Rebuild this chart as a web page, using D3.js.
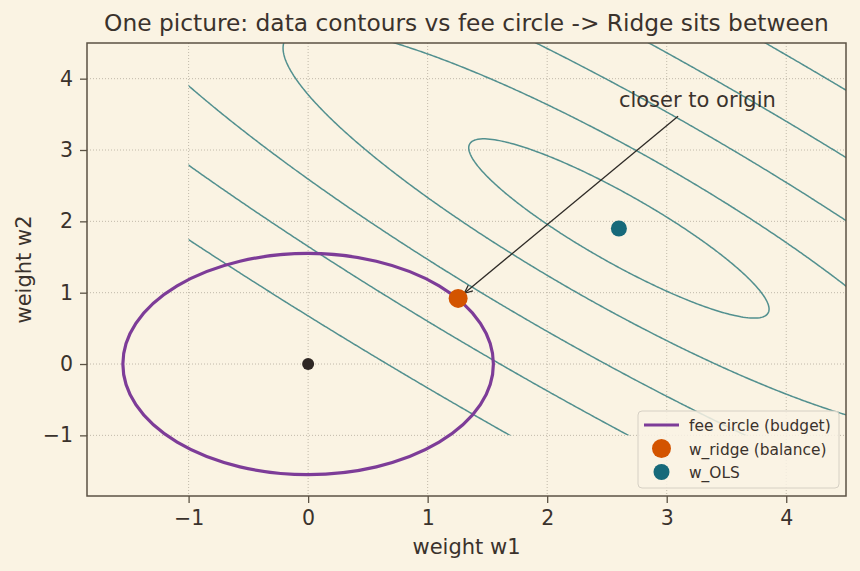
<!DOCTYPE html>
<html>
<head>
<meta charset="utf-8">
<script src="https://cdn.jsdelivr.net/npm/d3@7"></script>
<style>
  body { margin: 0; background: #faf3e3; }
  text { font-family: "DejaVu Sans", sans-serif; fill: #3a322c; }
</style>
</head>
<body>
<div id="chart"></div>
<script>
// chart values
let xTicks = [-1, 0, 1, 2, 3, 4];
let yTicks = [-1, 0, 1, 2, 3, 4];
let xLimits = [-1.85, 4.5];
let yLimits = [-1.85, 4.5];

// loss surface: (w - wOLS)^T A (w - wOLS), evaluated on a grid
let wOLS = [2.6, 1.9];
let lossMatrix = [[1, 0.9], [0.9, 1]];
let contourLevels = [0.3, 1.5, 4, 8, 14];
let gridXRange = [-1, 4.5];
let gridYRange = [-1, 4.5];

let feeRadius = 1.55;
let wRidge = [1.255, 0.92];
let origin = [0, 0];

let legendLabels = ["fee circle (budget)", "w_ridge (balance)", "w_OLS"];
let titleText = "One picture: data contours vs fee circle -> Ridge sits between";

let svgWidth = 860;
let svgHeight = 571;

let margin = { top: 43, right: 14, bottom: 75, left: 87 };
let width = svgWidth - margin.left - margin.right;
let height = svgHeight - margin.top - margin.bottom;

let svg = d3.select("#chart")
    .append("svg")
    .attr("width", svgWidth)
    .attr("height", svgHeight);

svg.append("rect")
    .attr("width", svgWidth)
    .attr("height", svgHeight)
    .attr("fill", "#faf3e3");

let chartGroup = svg.append("g")
    .attr("transform", `translate(${margin.left}, ${margin.top})`);

let xScale = d3.scaleLinear().domain(xLimits).range([0, width]);
let yScale = d3.scaleLinear().domain(yLimits).range([height, 0]);

// grid
chartGroup.append("g")
    .selectAll("line")
    .data(xTicks)
    .enter()
    .append("line")
    .attr("x1", d => xScale(d))
    .attr("x2", d => xScale(d))
    .attr("y1", 0)
    .attr("y2", height)
    .attr("stroke", "#b3ab9c")
    .attr("stroke-width", 0.8)
    .attr("stroke-dasharray", "1,2");

chartGroup.append("g")
    .selectAll("line")
    .data(yTicks)
    .enter()
    .append("line")
    .attr("x1", 0)
    .attr("x2", width)
    .attr("y1", d => yScale(d))
    .attr("y2", d => yScale(d))
    .attr("stroke", "#b3ab9c")
    .attr("stroke-width", 0.8)
    .attr("stroke-dasharray", "1,2");

// contours: grid a bit bigger than the drawn region, then clipped
let step = 0.02;
let gx0 = gridXRange[0] - 0.5, gx1 = gridXRange[1] + 0.5;
let gy0 = gridYRange[0] - 0.5, gy1 = gridYRange[1] + 0.5;
let nx = Math.round((gx1 - gx0) / step) + 1;
let ny = Math.round((gy1 - gy0) / step) + 1;
let values = new Array(nx * ny);
for (let j = 0; j < ny; j++) {
    for (let i = 0; i < nx; i++) {
        let dx = gx0 + i * step - wOLS[0];
        let dy = gy0 + j * step - wOLS[1];
        values[j * nx + i] = lossMatrix[0][0] * dx * dx
            + 2 * lossMatrix[0][1] * dx * dy
            + lossMatrix[1][1] * dy * dy;
    }
}

let contours = d3.contours()
    .size([nx, ny])
    .thresholds(contourLevels)(values);

let gridProjection = d3.geoTransform({
    point: function(gx, gy) {
        this.stream.point(xScale(gx0 + (gx - 0.5) * step), yScale(gy0 + (gy - 0.5) * step));
    }
});

svg.append("defs").append("clipPath")
    .attr("id", "gridClip")
    .append("rect")
    .attr("x", xScale(gridXRange[0]))
    .attr("y", yScale(gridYRange[1]))
    .attr("width", xScale(gridXRange[1]) - xScale(gridXRange[0]))
    .attr("height", yScale(gridYRange[0]) - yScale(gridYRange[1]));

chartGroup.append("g")
    .attr("clip-path", "url(#gridClip)")
    .selectAll("path")
    .data(contours)
    .enter()
    .append("path")
    .attr("d", d3.geoPath(gridProjection))
    .attr("fill", "none")
    .attr("stroke", "#52908f")
    .attr("stroke-width", 1.5);

// fee circle
chartGroup.append("ellipse")
    .attr("cx", xScale(0))
    .attr("cy", yScale(0))
    .attr("rx", xScale(feeRadius) - xScale(0))
    .attr("ry", yScale(0) - yScale(feeRadius))
    .attr("fill", "none")
    .attr("stroke", "#7d3c98")
    .attr("stroke-width", 3.2);

// origin
chartGroup.append("circle")
    .attr("cx", xScale(origin[0]))
    .attr("cy", yScale(origin[1]))
    .attr("r", 6)
    .attr("fill", "#2e2724");

// annotation
let annText = chartGroup.append("text")
    .attr("x", xScale(2.6))
    .attr("y", yScale(3.6))
    .attr("font-size", "21px")
    .text("closer to origin");

let bb = annText.node().getBBox();
let cx0 = bb.x + bb.width / 2, cy0 = bb.y + bb.height / 2;
let tx = xScale(wRidge[0]), ty = yScale(wRidge[1]);
let startT = (bb.y + bb.height + 4 - cy0) / (ty - cy0);
let sx = cx0 + (tx - cx0) * startT, sy = cy0 + (ty - cy0) * startT;
let len = Math.hypot(tx - sx, ty - sy);
let ux = (tx - sx) / len, uy = (ty - sy) / len;
let ex = tx - ux * 8, ey = ty - uy * 8;

chartGroup.append("line")
    .attr("x1", sx).attr("y1", sy)
    .attr("x2", ex).attr("y2", ey)
    .attr("stroke", "#2e2a26")
    .attr("stroke-width", 1.3);

let headLen = 9, headAng = 0.42;
let head = [
    [ex - headLen * (ux * Math.cos(headAng) - uy * Math.sin(headAng)), ey - headLen * (uy * Math.cos(headAng) + ux * Math.sin(headAng))],
    [ex, ey],
    [ex - headLen * (ux * Math.cos(-headAng) - uy * Math.sin(-headAng)), ey - headLen * (uy * Math.cos(-headAng) + ux * Math.sin(-headAng))]
];
chartGroup.append("path")
    .attr("d", d3.line()(head))
    .attr("fill", "none")
    .attr("stroke", "#2e2a26")
    .attr("stroke-width", 1.3);

// ridge and OLS points
chartGroup.append("circle")
    .attr("cx", xScale(wRidge[0]))
    .attr("cy", yScale(wRidge[1]))
    .attr("r", 9.5)
    .attr("fill", "#d35400");

chartGroup.append("circle")
    .attr("cx", xScale(wOLS[0]))
    .attr("cy", yScale(wOLS[1]))
    .attr("r", 8)
    .attr("fill", "#16697a");

// spines
chartGroup.append("rect")
    .attr("width", width)
    .attr("height", height)
    .attr("fill", "none")
    .attr("stroke", "#5b5244")
    .attr("stroke-width", 1.5);

// axes
let bottomAxis = d3.axisBottom(xScale).tickValues(xTicks).tickSize(7).tickPadding(7).tickFormat(d3.format("d"));
let leftAxis = d3.axisLeft(yScale).tickValues(yTicks).tickSize(7).tickPadding(7).tickFormat(d3.format("d"));

let xAxisG = chartGroup.append("g")
    .attr("transform", `translate(0, ${height})`)
    .call(bottomAxis);
let yAxisG = chartGroup.append("g")
    .call(leftAxis);

[xAxisG, yAxisG].forEach(g => {
    g.select(".domain").remove();
    g.selectAll(".tick line").attr("stroke", "#5b5244").attr("stroke-width", 1.3);
    g.selectAll(".tick text")
        .attr("font-size", "20.5px")
        .attr("font-family", "DejaVu Sans")
        .attr("fill", "#3a322c");
});

// labels
chartGroup.append("text")
    .attr("x", width / 2)
    .attr("y", height + 58)
    .attr("text-anchor", "middle")
    .attr("font-size", "21px")
    .text("weight w1");

chartGroup.append("text")
    .attr("transform", "rotate(-90)")
    .attr("x", -height / 2)
    .attr("y", 31 - margin.left)
    .attr("text-anchor", "middle")
    .attr("font-size", "21px")
    .text("weight w2");

svg.append("text")
    .attr("x", margin.left + width / 2)
    .attr("y", 31)
    .attr("text-anchor", "middle")
    .attr("font-size", "23.3px")
    .text(titleText);

// legend
let legend = svg.append("g").attr("transform", "translate(638, 411)");
legend.append("rect")
    .attr("width", 201)
    .attr("height", 77)
    .attr("rx", 4)
    .attr("fill", "#f9f2e4")
    .attr("fill-opacity", 0.85)
    .attr("stroke", "#d6d0c4")
    .attr("stroke-width", 1);

legend.append("line")
    .attr("x1", 6).attr("x2", 41)
    .attr("y1", 14).attr("y2", 14)
    .attr("stroke", "#7d3c98")
    .attr("stroke-width", 3.2);
legend.append("circle").attr("cx", 23.5).attr("cy", 37.5).attr("r", 9.5).attr("fill", "#d35400");
legend.append("circle").attr("cx", 23.5).attr("cy", 61).attr("r", 8).attr("fill", "#16697a");

legend.selectAll(".legText")
    .data(legendLabels)
    .enter()
    .append("text")
    .attr("x", 51)
    .attr("y", (d, i) => 20 + i * 23.5)
    .attr("font-size", "15.4px")
    .text(d => d);
</script>
</body>
</html>
